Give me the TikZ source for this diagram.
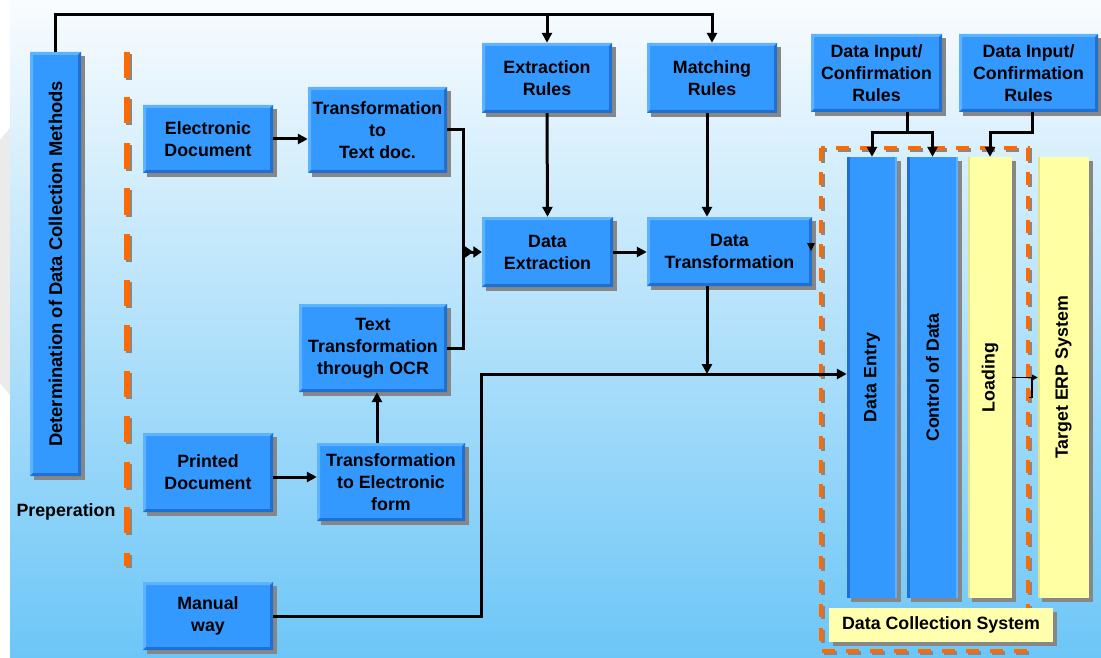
\documentclass[tikz,border=0pt]{standalone}
\usepackage{fontspec}
\setmainfont{Liberation Sans}
\usepackage{graphicx}
\usetikzlibrary{arrows.meta,shadows,calc}

\definecolor{boxblue}{HTML}{3399FF}
\definecolor{bluelight}{HTML}{5DB3FF}
\definecolor{bluedark}{HTML}{1F70D0}
\definecolor{baryellow}{HTML}{FFFFA3}
\definecolor{labelyellow}{HTML}{FFFFAE}
\definecolor{yellowedge}{HTML}{E2E28A}
\definecolor{shadowgray}{HTML}{878787}
\definecolor{dashorange}{HTML}{FF6A00}
\definecolor{bgtop}{HTML}{F9FCFE}
\definecolor{bgmid}{HTML}{CDE8FA}
\definecolor{bgbot}{HTML}{6CC6F7}
\definecolor{leftgray}{HTML}{EBEBEB}

\tikzset{
  boxtext/.style={font=\bfseries\fontsize{17.8}{22}\selectfont, align=center, text=black},
  sz/.style 2 args={minimum width=#1pt, minimum height=#2pt},
  base/.style={boxtext, inner sep=0pt,
    drop shadow={shadow xshift=4pt, shadow yshift=-4pt, fill=shadowgray, opacity=1}},
  bluebox/.style={base, fill=boxblue, path picture={
    \fill[bluelight] (path picture bounding box.north west) -- (path picture bounding box.north east)
      -- ([shift={(-3pt,-3pt)}]path picture bounding box.north east)
      -- ([shift={(3pt,-3pt)}]path picture bounding box.north west)
      -- ([shift={(3pt,3pt)}]path picture bounding box.south west)
      -- (path picture bounding box.south west) -- cycle;
    \fill[bluedark] (path picture bounding box.south east) -- (path picture bounding box.south west)
      -- ([shift={(3pt,3pt)}]path picture bounding box.south west)
      -- ([shift={(-3pt,3pt)}]path picture bounding box.south east)
      -- ([shift={(-3pt,-3pt)}]path picture bounding box.north east)
      -- (path picture bounding box.north east) -- cycle;
  }},
  bluebar/.style={base, fill=boxblue, path picture={
    \fill[bluedark] (path picture bounding box.south west) rectangle ([xshift=3pt]path picture bounding box.north west);
    \fill[bluelight] ([xshift=-2pt]path picture bounding box.south east) rectangle (path picture bounding box.north east);
  }},
  yellowbar/.style={base, fill=baryellow, path picture={
    \fill[yellowedge] (path picture bounding box.south west) rectangle ([xshift=2pt]path picture bounding box.north west);
  }},
  yellowlabel/.style={base, fill=labelyellow},
  conn/.style={line width=3pt, black, line join=miter},
  arr/.style={conn, -{Triangle[length=10pt,width=10pt]}},
  dblarr/.style={conn, -{Triangle[length=8.5pt,width=11pt]Triangle[length=8.5pt,width=11pt]}},
  thinconn/.style={line width=1.3pt, black},
  thinarr/.style={thinconn, -{Triangle[length=6pt,width=6pt]}},
  sepline/.style={dashorange, line width=5.5pt, dash pattern=on 26pt off 19.5pt},
  sepshadow/.style={shadowgray, line width=5.5pt, dash pattern=on 26pt off 19.5pt},
  groupline/.style={dashorange, line width=4.5pt, dash pattern=on 13pt off 11pt},
  groupshadow/.style={shadowgray, line width=4.5pt, dash pattern=on 13pt off 11pt},
}

\begin{document}
\begin{tikzpicture}[x=1pt, y=-1pt]
  \useasboundingbox (0,0) rectangle (1101,658);

  % backdrop
  \fill[white] (0,0) rectangle (1101,658);
  \fill[leftgray] (0,140) -- (10,128) -- (10,395) -- (0,383) -- cycle;
  \shade[top color=bgtop, middle color=bgmid, bottom color=bgbot] (10,0) rectangle (1101,658);

  % dashed separator of the preparation stage
  \coordinate (sepTop) at (127,52);
  \coordinate (sepBot) at (127,566);
  \draw[sepshadow] ([shift={(2pt,-2pt)}]sepTop) -- ([shift={(2pt,-2pt)}]sepBot);
  \draw[sepline] (sepTop) -- (sepBot);

  % dashed frame of the data collection system
  \draw[groupshadow] (823,150) rectangle (1030,653);
  \draw[groupline] (821,148) rectangle (1028,651);

  % preparation
  \node[bluebox, sz={51}{424}] (det) at (55.5,264)
    {\rotatebox{90}{\fontsize{18.4}{22}\selectfont Determination of Data Collection Methods}};
  \node[boxtext, anchor=west] (prep) at (13,512) {Preperation};

  % sources
  \node[bluebox, sz={130}{68}] (elec) at (208,139) {Electronic\\Document};
  \node[bluebox, sz={130}{79}] (print) at (208,472.5) {Printed\\Document};
  \node[bluebox, sz={130}{68}] (manual) at (208,616) {Manual\\way};

  % conversion steps
  \node[bluebox, sz={139}{86}] (ttd) at (377.5,130) {Transformation\\to\\Text doc.};
  \node[bluebox, sz={148}{88}] (ocr) at (373,348) {Text\\Transformation\\through OCR};
  \node[bluebox, sz={148}{78}] (tte) at (391,482) {Transformation\\to Electronic\\form};

  % rules
  \node[bluebox, sz={130}{70}] (extr) at (547,78) {Extraction\\Rules};
  \node[bluebox, sz={130}{70}] (match) at (712,78) {Matching\\Rules};
  \node[bluebox, sz={131}{78}] (di1) at (876.5,73) {Data Input/\\Confirmation\\Rules};
  \node[bluebox, sz={139}{78}] (di2) at (1028.5,73) {Data Input/\\Confirmation\\Rules};

  % processing
  \node[bluebox, sz={131}{70}] (dext) at (547.5,252) {Data\\Extraction};
  \node[bluebox, sz={165}{69}] (dtr) at (729.5,251.5) {Data\\Transformation};

  % data collection system
  \node[bluebar, sz={50}{441}] (dentry) at (872,377.5) {\rotatebox{90}{Data Entry}};
  \node[bluebar, sz={51}{441}] (ctrl) at (932.5,377.5) {\rotatebox{90}{Control of Data}};
  \node[yellowbar, sz={44}{441}] (load) at (990,377.5) {\rotatebox{90}{Loading}};
  \node[yellowbar, sz={51}{441}] (target) at (1063.5,377.5) {\rotatebox{90}{Target ERP System}};
  \node[yellowlabel, sz={224}{34}] (dcs) at (941,625) {Data Collection System};

  % routing points
  \coordinate (bus) at (0,15);
  \coordinate (mergept) at (463,252);
  \coordinate (col) at (707,0);
  \coordinate (mainbend) at (481,374);
  \coordinate (ocrcol) at (377,0);
  \coordinate (forkA) at (907,133);
  \coordinate (forkB) at (1032,133);

  % connectors
  \draw[arr] (det.north) |- (match.north |- bus) -- (match.north);
  \draw[arr] (extr.north |- bus) -- (extr.north);

  \draw[arr] (elec.east) -- (elec.east -| ttd.west);
  \draw[conn] (ttd.east) -| (mergept);
  \draw[conn] (ocr.east) -| (mergept);
  \draw[dblarr] (mergept) -- (dext.west);

  \draw[arr] (extr.south) -- (dext.north);
  \draw[arr] (match.south -| col) -- (dtr.north -| col);
  \draw[arr] (dext.east) -- (dext.east -| dtr.west);
  \draw[arr] (dtr.south -| col) -- (col |- mainbend);
  \fill (807,243) -- (815,243) -- (811,251) -- cycle;

  \draw[arr] (manual.east) -| (mainbend) -- (mainbend -| dentry.west);

  \draw[arr] ([yshift=-4.5pt]print.east) -- ([yshift=-4.5pt]print.east -| tte.west);
  \draw[arr] (tte.north -| ocrcol) -- (ocr.south -| ocrcol);

  \draw[conn] (di1.south -| forkA) -- (forkA);
  \draw[arr] (forkA) -| (dentry.north);
  \draw[arr] (forkA) -| (ctrl.north);
  \draw[arr] (di2.south -| forkB) -- (forkB) -| (load.north);

  \draw[thinarr] (load.east) -- (load.east -| target.west);
  \draw[thinconn] (load.east -| forkB) -- ++(0,20) -- ++(-3,0);
\end{tikzpicture}
\end{document}
